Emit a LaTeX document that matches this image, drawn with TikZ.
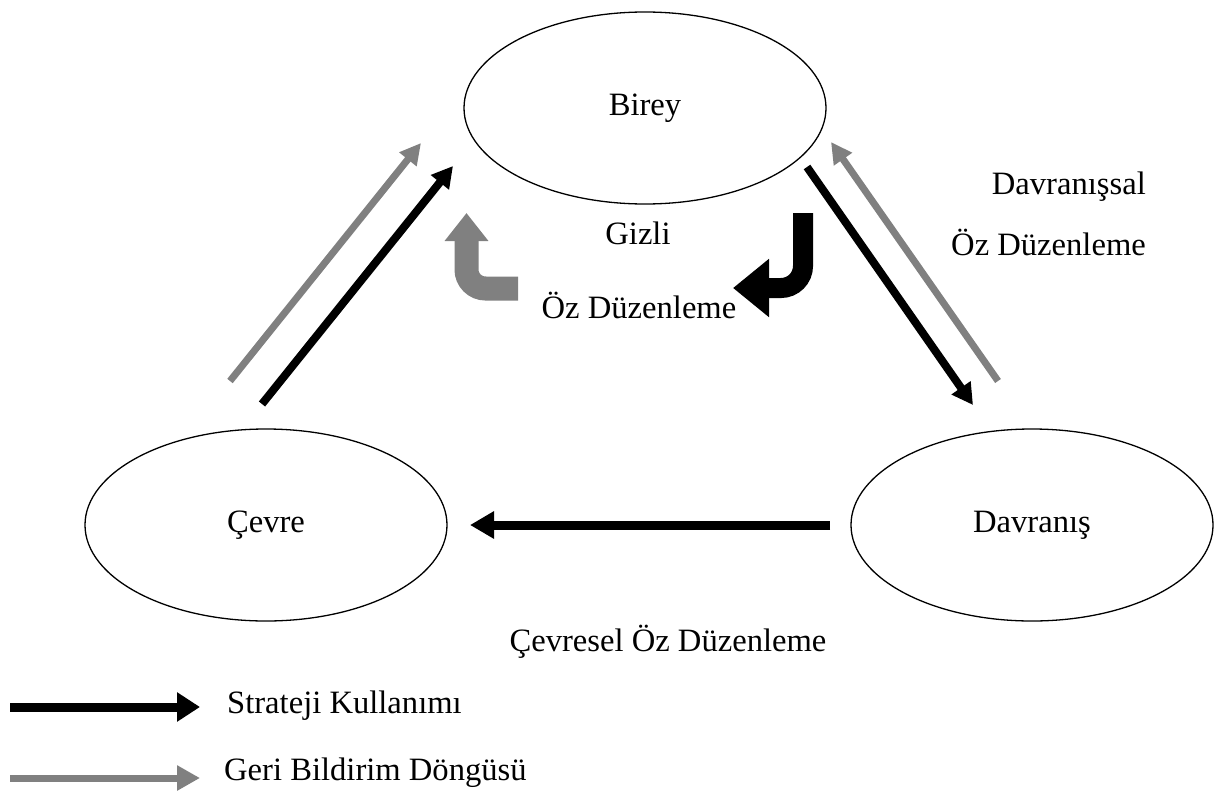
\documentclass[tikz,border=0pt]{standalone}
\usepackage{fontspec}
\setmainfont{Liberation Serif}
\usetikzlibrary{arrows.meta,shapes.geometric,positioning}
\definecolor{fbgray}{RGB}{128,128,128}
\tikzset{
  factor/.style={draw, ellipse, line width=1.3pt, minimum width=362pt, minimum height=192pt, inner sep=0pt},
  strat/.style={line width=8pt, -{Triangle[length=21pt,width=22pt]}},
  feedback/.style={fbgray, line width=7pt, -{Triangle[length=21pt,width=21pt]}},
  lbl/.style={inner sep=0pt}
}

\begin{document}
\begin{tikzpicture}[x=1pt, y=-1pt, font=\fontsize{32.6}{38}\selectfont]
  \useasboundingbox (0,0) rectangle (1214,792);

  % the three factors
  \node [factor] (birey) at (645,108) {Birey};
  \node [factor] (cevre) at (266,525) {Çevre};
  \node [factor] (davranis) at (1032,525) {Davranış};

  % arrow ends
  \coordinate (cbA) at (262,404);  \coordinate (cbB) at (453,166);
  \coordinate (cfA) at (230,381);  \coordinate (cfB) at (421,143);
  \coordinate (bdA) at (807,167);  \coordinate (bdB) at (973,405);
  \coordinate (dfA) at (998,381);  \coordinate (dfB) at (831,142);
  \coordinate (dcA) at (830,525);  \coordinate (dcB) at (470,525);

  \draw [feedback] (cfA) -- (cfB);
  \draw [strat] (cbA) -- (cbB);
  \draw [strat] (bdA) -- (bdB);
  \draw [feedback] (dfA) -- (dfB);
  \draw [line width=9pt, -{Triangle[length=24pt,width=26pt]}] (dcA) -- (dcB);

  % covert loop
  \draw [fbgray, line width=24pt, rounded corners=19pt, -{Triangle[length=28pt,width=42pt]}]
    (518,288.5) -| (466.5,213);
  \draw [line width=20pt, rounded corners=22pt, -{Triangle[length=36pt,width=56pt]}]
    (803,213) |- (733,288);

  \node [lbl] (gizli) at (638,233) {Gizli};
  \node [lbl] (gizlioz) at (639,305) {Öz Düzenleme};
  \node [lbl, anchor=east] (davsal) at (1146,187) {Davranışsal};
  \node [lbl, anchor=east] (davoz) at (1146,242) {Öz Düzenleme};
  \node [lbl] (cevresel) at (668,642) {Çevresel Öz Düzenleme};

  % legend
  \node [lbl, anchor=west] (kstrat) at (227,706) {Strateji Kullanımı};
  \node [lbl, anchor=west] (kgeri) at (224,773) {Geri Bildirim Döngüsü};
  \coordinate (ksA) at (10,707);
  \coordinate (kgA) at (10,778);
  \draw [line width=9pt, -{Triangle[length=23pt,width=28pt]}] (ksA) -- (ksA -| 200,0);
  \draw [fbgray, line width=7pt, -{Triangle[length=23pt,width=24pt]}] (kgA) -- (kgA -| 200,0);
\end{tikzpicture}
\end{document}
